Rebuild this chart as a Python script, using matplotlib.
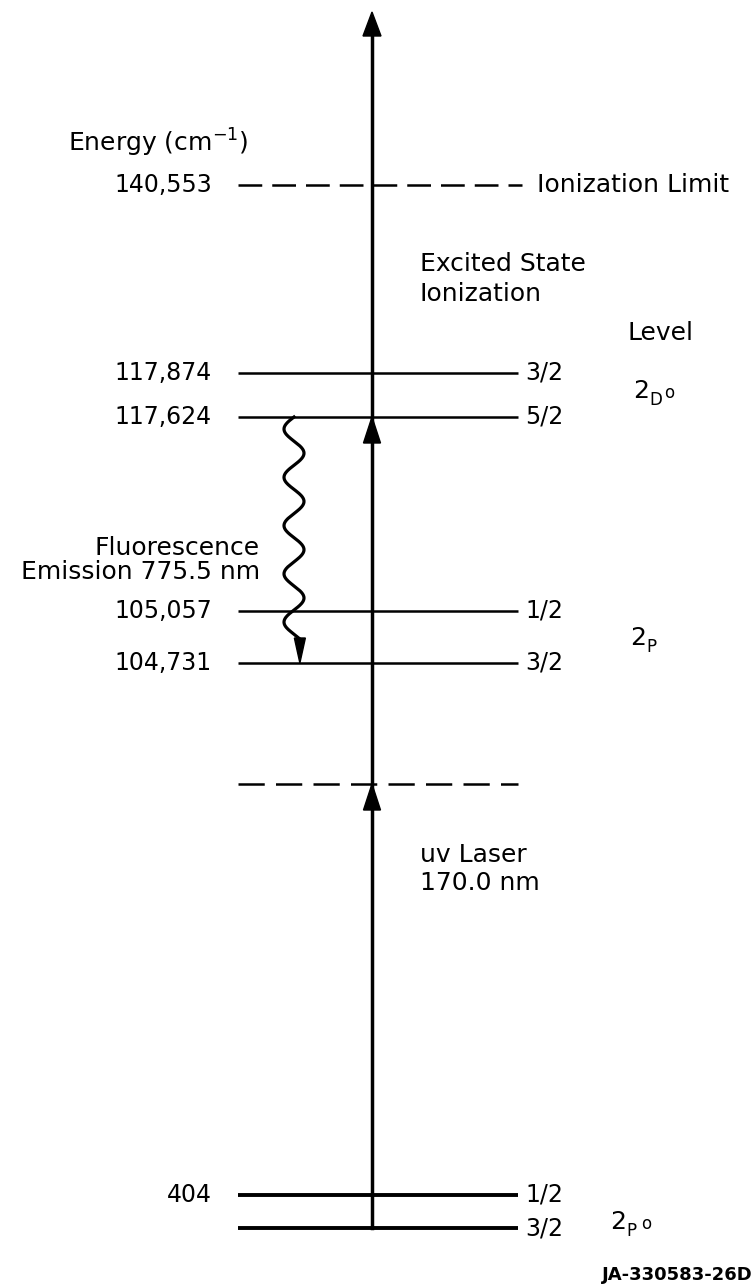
import numpy as np
import matplotlib.pyplot as plt
from matplotlib.patches import Polygon

plt.rcParams['font.family'] = ['DejaVu Sans']

# energy levels (cm^-1) and their J values, top to bottom
level_energy = ['117,874', '117,624', '105,057', '104,731', '404', '']
level_j = ['3/2', '5/2', '1/2', '3/2', '1/2', '3/2']
ion_energy = '140,553'

# term symbols: (multiplicity, letter, parity mark)
term_mult = ['2', '2', '2']
term_letter = ['D', 'P', 'P']
term_parity = ['o', '', 'o']

# diagram is not to scale -> layout rows (pixels from top)
level_row = [373, 417, 611, 663, 1195, 1228]
level_lw = [1.8, 1.8, 1.8, 1.8, 2.8, 2.8]
ion_row = 185
virtual_row = 784
term_row = [391, 638, 1222]
term_x = [633, 630, 610]

X0, X1 = 238, 518      # level line extent
XA = 372               # laser arrow
XW = 294               # fluorescence wave
FS = 17                # numbers
FW = 18                # words

fig = plt.figure(figsize=(7.56, 12.87), dpi=100)
ax = fig.add_axes([0, 0, 1, 1])
ax.set_xlim(0, 756)
ax.set_ylim(1287, 0)
ax.axis('off')


def head(x, tip, up=True, w=17, l=26):
    s = 1 if up else -1
    ax.add_patch(Polygon([[x, tip], [x - w / 2, tip + s * l], [x + w / 2, tip + s * l]],
                         closed=True, color='black', zorder=5))


# solid levels
for y, lab, j, lw in zip(level_row, level_energy, level_j, level_lw):
    ax.plot([X0, X1], [y, y], color='black', lw=lw, solid_capstyle='butt')
    ax.text(212, y, lab, ha='right', va='center', fontsize=FS)
    ax.text(525, y, j, ha='left', va='center', fontsize=FS)

# ionization limit and virtual level (dashed)
ax.plot([X0, X1 + 4], [ion_row, ion_row], color='black', lw=1.8, dashes=(9.5, 4))
ax.text(212, ion_row, ion_energy, ha='right', va='center', fontsize=FS)
ax.text(537, ion_row, 'Ionization Limit', ha='left', va='center', fontsize=FW)
ax.plot([X0, X1], [virtual_row, virtual_row], color='black', lw=1.8, dashes=(10.5, 4.5))

# laser arrow: ground -> virtual -> 5/2 -> continuum
ax.plot([XA, XA], [level_row[-1], 30], color='black', lw=2.5)
head(XA, 12, w=18, l=24)
head(XA, level_row[1])
head(XA, virtual_row)

# fluorescence wavy arrow 117,624 -> 104,731
t = np.linspace(0, 1, 500)
y_top, y_end = level_row[1], level_row[3] - 24
wy = y_top + t * (y_end - y_top)
wx = XW - 10 * np.sin(2 * np.pi * 4.6 * t)
ax.plot(wx, wy, color='black', lw=2.3)
head(wx[-1], level_row[3], up=False, w=11, l=25)

# labels
ax.text(68, 143, 'Energy (cm$^{-1}$)', ha='left', va='center', fontsize=FW)
ax.text(420, 279, 'Excited State\nIonization', ha='left', va='center', fontsize=FW,
        linespacing=1.3)
ax.text(628, 333, 'Level', ha='left', va='center', fontsize=FW)
ax.text(260, 560, 'Fluorescence\nEmission 775.5 nm', ha='right', va='center', fontsize=FW,
        linespacing=0.95, multialignment='right')
ax.text(420, 869, 'uv Laser\n170.0 nm', ha='left', va='center', fontsize=FW,
        linespacing=1.25)

for x, y, m, let, par in zip(term_x, term_row, term_mult, term_letter, term_parity):
    ax.text(x, y, m, ha='left', va='center', fontsize=FW)
    ax.text(x + 16, y + 9, let, ha='left', va='center', fontsize=12)
    if par:
        ax.text(x + 31, y + 2, par, ha='left', va='center', fontsize=12)

ax.text(753, 1275, 'JA-330583-26D', ha='right', va='center', fontsize=13,
        fontweight='bold')

fig.savefig('out.png', dpi=100)
